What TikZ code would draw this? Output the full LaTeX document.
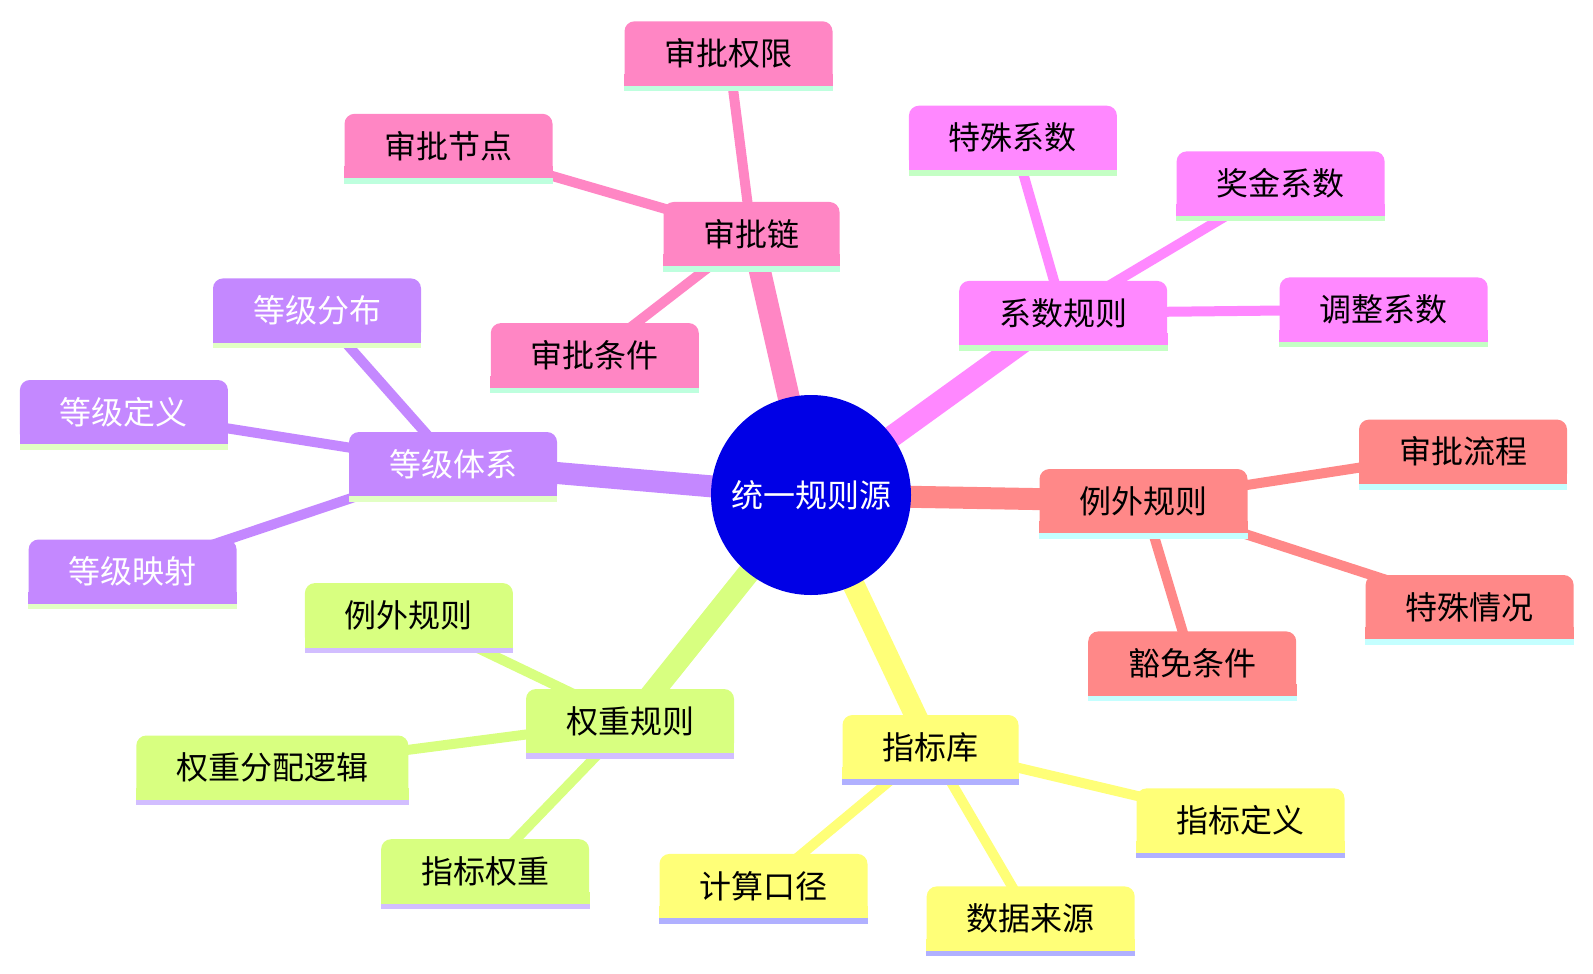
\documentclass[tikz,border=0pt]{standalone}
\usepackage{fontspec}
\setmainfont{Noto Sans CJK SC}
\usetikzlibrary{backgrounds}
\definecolor{cA}{RGB}{255,134,196}
\definecolor{lA}{RGB}{190,255,222}
\definecolor{cB}{RGB}{255,136,255}
\definecolor{lB}{RGB}{196,255,196}
\definecolor{cC}{RGB}{255,136,136}
\definecolor{lC}{RGB}{196,255,255}
\definecolor{cD}{RGB}{255,255,120}
\definecolor{lD}{RGB}{176,176,255}
\definecolor{cE}{RGB}{216,255,128}
\definecolor{lE}{RGB}{210,190,255}
\definecolor{cF}{RGB}{196,136,255}
\definecolor{lF}{RGB}{226,255,196}
\definecolor{rootc}{RGB}{0,0,230}
\begin{document}
\begin{tikzpicture}[x=0.5pt,y=-0.5pt,
  box/.style={rectangle, rounded corners=5pt, minimum height=32pt, inner xsep=20pt, inner ysep=0pt,
    font=\fontsize{16pt}{19pt}\selectfont, text=black},
  trunk/.style={line width=11pt},
  twig/.style={line width=5pt}]
\useasboundingbox (0,0) rectangle (1593,973);

\node[circle, fill=rootc, minimum size=100pt, inner sep=0pt, text=white,
  font=\fontsize{16pt}{19pt}\selectfont] (root) at (811,495) {统一规则源};

% section A
\node[box, fill=cA] (a)  at (751.5,234) {审批链};
\node[box, fill=cA] (a1) at (728.5,53.3) {审批权限};
\node[box, fill=cA] (a2) at (448.5,145.8) {审批节点};
\node[box, fill=cA] (a3) at (594.8,355.1) {审批条件};
% section B
\node[box, fill=cB] (b)  at (1063.2,312.9) {系数规则};
\node[box, fill=cB] (b1) at (1012.9,137.7) {特殊系数};
\node[box, fill=cB] (b2) at (1280.6,183.4) {奖金系数};
\node[box, fill=cB] (b3) at (1383.7,309.4) {调整系数};
% section C
\node[box, fill=cC] (c)  at (1143.5,501) {例外规则};
\node[box, fill=cC] (c1) at (1463,451.6) {审批流程};
\node[box, fill=cC] (c2) at (1469.6,607) {特殊情况};
\node[box, fill=cC] (c3) at (1192.2,663.4) {豁免条件};
% section D
\node[box, fill=cD] (d)  at (930.5,747) {指标库};
\node[box, fill=cD] (d1) at (1240.5,820.4) {指标定义};
\node[box, fill=cD] (d2) at (763.5,885.9) {计算口径};
\node[box, fill=cD] (d3) at (1030.7,918.4) {数据来源};
% section E
\node[box, fill=cE] (e)  at (630,721) {权重规则};
\node[box, fill=cE] (e1) at (408.9,615.1) {例外规则};
\node[box, fill=cE] (e2) at (272.3,767.5) {权重分配逻辑};
\node[box, fill=cE] (e3) at (485.1,871.2) {指标权重};
% section F
\node[box, fill=cF, text=white] (f)  at (453,464) {等级体系};
\node[box, fill=cF, text=white] (f1) at (317,310.4) {等级分布};
\node[box, fill=cF, text=white] (f2) at (123.9,412) {等级定义};
\node[box, fill=cF, text=white] (f3) at (132.6,571.5) {等级映射};

% square bottom corners and underline strips
\foreach \n/\c/\l in {a/cA/lA,a1/cA/lA,a2/cA/lA,a3/cA/lA,
                       b/cB/lB,b1/cB/lB,b2/cB/lB,b3/cB/lB,
                       c/cC/lC,c1/cC/lC,c2/cC/lC,c3/cC/lC,
                       d/cD/lD,d1/cD/lD,d2/cD/lD,d3/cD/lD,
                       e/cE/lE,e1/cE/lE,e2/cE/lE,e3/cE/lE,
                       f/cF/lF,f1/cF/lF,f2/cF/lF,f3/cF/lF}{
  \fill[\c] ([yshift=6pt]\n.south west) rectangle (\n.south east);
  \fill[\l] (\n.south west) rectangle ([yshift=-2.75pt]\n.south east);
}

\begin{scope}[on background layer]
  \draw[cA, trunk] (root.center) -- (a.center);
  \draw[cA, twig] (a.center) -- (a1.center);
  \draw[cA, twig] (a.center) -- (a2.center);
  \draw[cA, twig] (a.center) -- (a3.center);
  \draw[cB, trunk] (root.center) -- (b.center);
  \draw[cB, twig] (b.center) -- (b1.center);
  \draw[cB, twig] (b.center) -- (b2.center);
  \draw[cB, twig] (b.center) -- (b3.center);
  \draw[cC, trunk] (root.center) -- (c.center);
  \draw[cC, twig] (c.center) -- (c1.center);
  \draw[cC, twig] (c.center) -- (c2.center);
  \draw[cC, twig] (c.center) -- (c3.center);
  \draw[cD, trunk] (root.center) -- (d.center);
  \draw[cD, twig] (d.center) -- (d1.center);
  \draw[cD, twig] (d.center) -- (d2.center);
  \draw[cD, twig] (d.center) -- (d3.center);
  \draw[cE, trunk] (root.center) -- (e.center);
  \draw[cE, twig] (e.center) -- (e1.center);
  \draw[cE, twig] (e.center) -- (e2.center);
  \draw[cE, twig] (e.center) -- (e3.center);
  \draw[cF, trunk] (root.center) -- (f.center);
  \draw[cF, twig] (f.center) -- (f1.center);
  \draw[cF, twig] (f.center) -- (f2.center);
  \draw[cF, twig] (f.center) -- (f3.center);
\end{scope}
\end{tikzpicture}
\end{document}
